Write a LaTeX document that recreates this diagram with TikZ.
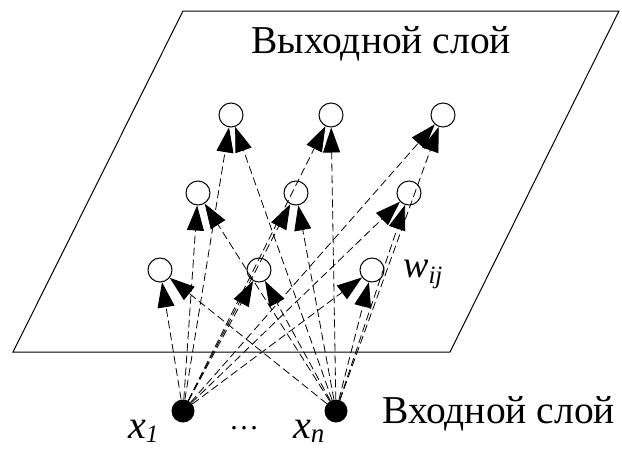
\documentclass[tikz,border=0pt]{standalone}
\usepackage{fontspec}
\setmainfont{Liberation Serif}
\newfontfamily\tnr{Liberation Serif}
\newfontfamily\tnri{Liberation Serif Italic}
\usetikzlibrary{arrows.meta}
\begin{document}
\begin{tikzpicture}[x=1pt,y=-1pt,
  outnode/.style={circle,draw,line width=1pt,minimum size=24pt,inner sep=0pt},
  innode/.style={circle,fill=black,minimum size=23pt,inner sep=0pt},
  edge/.style={line width=0.8pt,dash pattern=on 8pt off 4pt,-{Triangle[length=25pt,width=17pt]}},
  plane/.style={line width=1pt},
  lbl/.style={inner sep=0pt,anchor=base west}]
\useasboundingbox (0,0) rectangle (622,448);
\draw[plane] (13,352) -- (450,352) -- (619,11) -- (183,11) -- cycle;
\node[outnode] (o11) at (231,115) {};
\node[outnode] (o12) at (331,115) {};
\node[outnode] (o13) at (443,115) {};
\node[outnode] (o21) at (198,193) {};
\node[outnode] (o22) at (296,193) {};
\node[outnode] (o23) at (409,193) {};
\node[outnode] (o31) at (160,270) {};
\node[outnode] (o32) at (259,270) {};
\node[outnode] (o33) at (372,270) {};
\node[innode] (i1) at (183,411) {};
\node[innode] (in) at (336,411) {};
\foreach \s in {i1,in}
  \foreach \t in {o11,o12,o13,o21,o22,o23,o31,o32,o33}
    \draw[edge] (\s) -- (\t);
\node[lbl] (tout) at (251,53) {\tnr\fontsize{39.5}{40}\selectfont Выходной слой};
\node[lbl] (tin) at (382,423) {\tnr\fontsize{39.5}{40}\selectfont Входной слой};
\node[lbl] (lx1) at (128,438) {\tnri\fontsize{40}{40}\selectfont x\raisebox{-4pt}{\fontsize{25}{25}\selectfont 1}};
\node[lbl] (lxn) at (293,438) {\tnri\fontsize{40}{40}\selectfont x\raisebox{-4pt}{\fontsize{27}{27}\selectfont n}};
\node[inner sep=0pt,anchor=base] (dots) at (244,429) {\tnr\fontsize{30}{30}\selectfont …};
\node[lbl] (lw) at (403,277) {\tnri\fontsize{38}{40}\selectfont w\raisebox{-6pt}{\fontsize{25}{25}\selectfont ij}};
\end{tikzpicture}
\end{document}
